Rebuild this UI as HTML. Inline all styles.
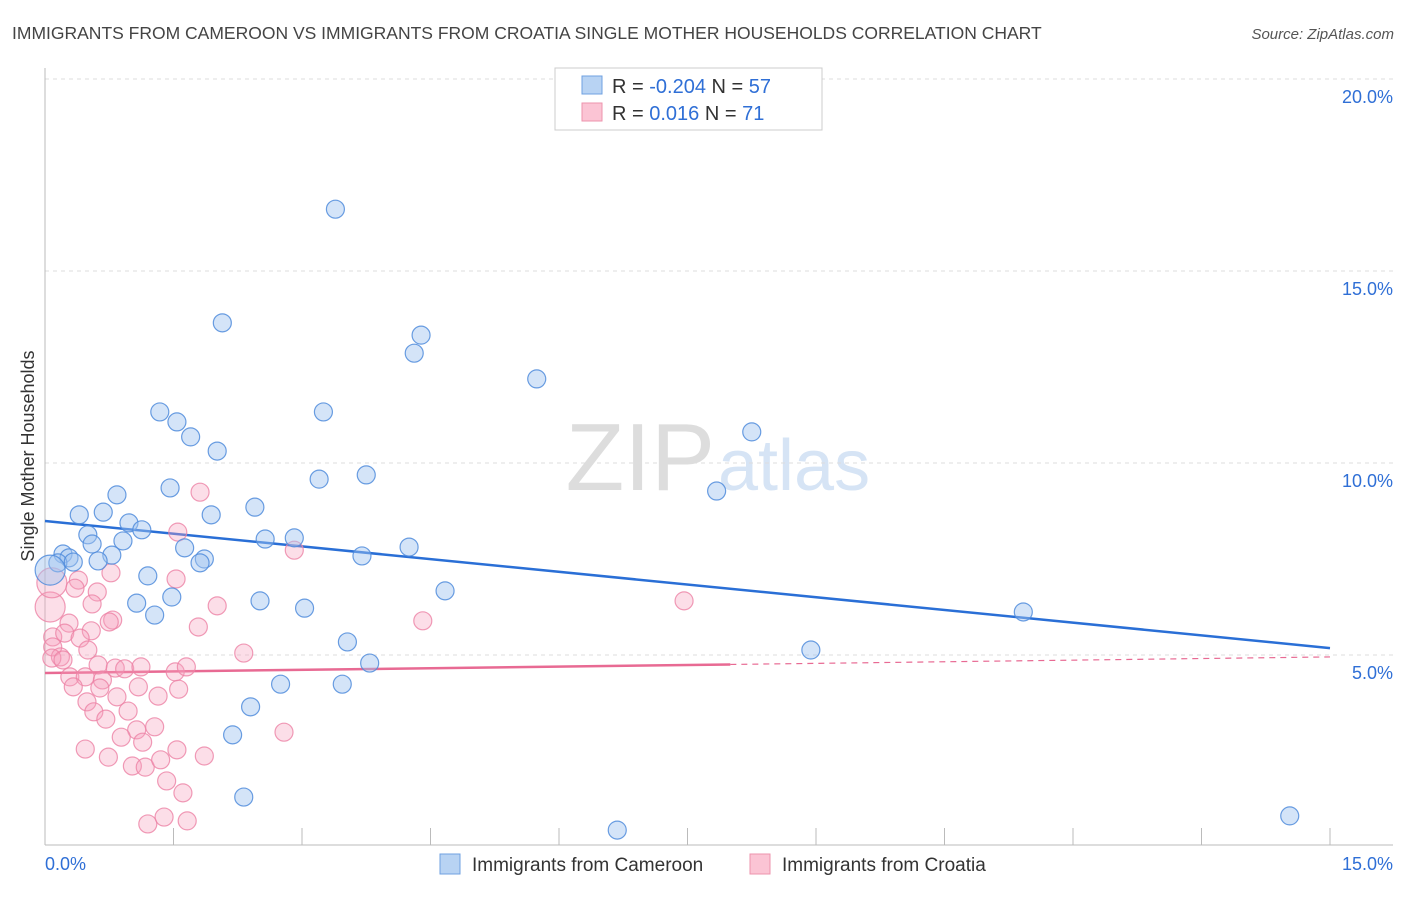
<!DOCTYPE html>
<html><head><meta charset="utf-8"><style>
body{margin:0;background:#fff;font-family:"Liberation Sans",sans-serif;}
svg text{font-family:"Liberation Sans",sans-serif;}
</style></head><body>
<svg id="chart" width="1406" height="892" xmlns="http://www.w3.org/2000/svg">
<text x="12" y="39" font-size="17.5" fill="#444">IMMIGRANTS FROM CAMEROON VS IMMIGRANTS FROM CROATIA SINGLE MOTHER HOUSEHOLDS CORRELATION CHART</text>
<text x="1394" y="39" font-size="15" fill="#555" font-style="italic" text-anchor="end">Source: ZipAtlas.com</text>
<text x="715" y="490" font-size="96" fill="#ddd" text-anchor="end" font-family="Liberation Serif">ZIP</text>
<text x="718" y="490" font-size="72" fill="#d6e4f5">atlas</text>
<text transform="translate(34,456) rotate(-90)" font-size="18" fill="#333" text-anchor="middle">Single Mother Households</text>
<g id="grid"></g><g id="axes"></g><g id="lines"></g><g id="pts"></g>
<g>
<rect x="555" y="68" width="267" height="62" fill="#fff" stroke="#ccc"/>
<rect x="582" y="76" width="20" height="18" fill="#b8d3f3" stroke="#6fa0e0"/>
<rect x="582" y="103" width="20" height="18" fill="#fbc4d4" stroke="#ee93ad"/>
<text x="612" y="93" font-size="20" fill="#333">R = <tspan fill="#2f6fd6">-0.204</tspan>   N = <tspan fill="#2f6fd6">57</tspan></text>
<text x="612" y="120" font-size="20" fill="#333">R =    <tspan fill="#2f6fd6">0.016</tspan>   N =  <tspan fill="#2f6fd6">71</tspan></text>
</g>
<g>
<rect x="440" y="854" width="20" height="20" fill="#b8d3f3" stroke="#6fa0e0"/>
<text x="472" y="871" font-size="19" fill="#333">Immigrants from Cameroon</text>
<rect x="750" y="854" width="20" height="20" fill="#fbc4d4" stroke="#ee93ad"/>
<text x="782" y="871" font-size="19" fill="#333">Immigrants from Croatia</text>
</g>
</svg>
<script>
const blueX=[3.39,2.07,4.39,4.31,5.74,1.34,3.25,1.54,1.70,8.25,2.01,3.20,3.75,1.46,0.84,7.84,2.45,0.40,0.68,1.94,0.98,1.13,0.50,2.57,2.91,0.55,0.91,4.25,1.63,0.21,0.78,0.28,0.15,0.33,0.62,1.86,1.81,3.70,0.06,1.20,4.67,1.07,2.51,1.48,3.03,1.28,11.42,3.53,8.94,3.79,2.75,3.47,2.40,2.19,2.32,6.68,14.53];
const blueY=[16.61,13.65,13.33,12.86,12.19,11.33,11.33,11.07,10.68,10.81,10.31,9.58,9.69,9.35,9.17,9.27,8.85,8.65,8.72,8.65,8.44,8.26,8.13,8.02,8.05,7.89,7.97,7.81,7.79,7.63,7.60,7.53,7.40,7.42,7.45,7.50,7.40,7.58,7.21,7.06,6.67,6.35,6.41,6.51,6.22,6.04,6.12,5.34,5.13,4.79,4.24,4.24,3.65,2.92,1.30,0.44,0.81];
const pinkX=[1.81,1.55,2.91,0.77,1.53,0.39,0.35,0.61,0.55,2.01,0.06,0.08,0.79,0.75,1.79,0.28,0.54,0.09,0.23,0.41,0.50,0.09,0.18,0.08,0.21,2.32,0.62,0.82,0.93,1.12,1.52,1.65,0.29,0.47,0.67,0.64,0.33,1.09,1.32,1.56,0.84,0.49,0.57,0.97,0.71,1.28,1.07,0.89,1.14,2.79,0.47,0.74,1.02,1.17,1.35,1.54,1.86,1.42,1.61,1.20,1.39,1.66,7.46,4.41];
const pinkY=[9.24,8.20,7.73,7.14,6.98,6.95,6.74,6.64,6.33,6.28,6.25,6.88,5.91,5.86,5.73,5.83,5.63,5.47,5.57,5.44,5.13,5.21,4.95,4.92,4.87,5.05,4.74,4.66,4.64,4.69,4.56,4.69,4.43,4.43,4.35,4.14,4.17,4.17,3.93,4.11,3.91,3.78,3.52,3.54,3.33,3.13,3.05,2.86,2.73,2.99,2.55,2.34,2.11,2.08,2.27,2.53,2.37,1.72,1.41,0.60,0.78,0.68,6.41,5.89];
const blueTrend=[8.49,5.18];
const pinkTrend=[4.53,4.95];
const pinkSolidEnd=8.0;
const yTicks=[5,10,15,20];
const xTickLabels=["0.0%","15.0%"];
const NS="http://www.w3.org/2000/svg";
const X0=45,X1=1330,Y0=847,PY=38.4;
function sx(v){return X0+(X1-X0)*v/15;}
function sy(v){return Y0-v*PY;}
function mk(tag,attrs,parent){const e=document.createElementNS(NS,tag);for(const k in attrs)e.setAttribute(k,attrs[k]);parent.appendChild(e);return e;}
const grid=document.getElementById('grid'),axes=document.getElementById('axes'),lines=document.getElementById('lines'),pts=document.getElementById('pts');
yTicks.forEach(t=>{
 const l=mk('line',{x1:45,x2:1393,y1:sy(t),y2:sy(t),stroke:'#ddd','stroke-dasharray':'4,4'},grid);
 
 
 const tx=mk('text',{x:1393,y:sy(t)+24,'font-size':18,fill:'#2f6fd6','text-anchor':'end'},grid);
 tx.textContent=t.toFixed(1)+'%';
 
 
});
const ax=mk('line',{x1:45,x2:1393,y1:845,y2:845,stroke:'#bbb'},axes);


const ay=mk('line',{x1:45,x2:45,y1:68,y2:845,stroke:'#bbb'},axes);


for(let i=0;i<=10;i++){const t=mk('line',{x1:sx(i*1.5),x2:sx(i*1.5),y1:828,y2:845,stroke:'#bbb'},axes);
 
 }
const xl0=mk('text',{x:45,y:870,'font-size':18,fill:'#2f6fd6'},axes);xl0.textContent=xTickLabels[0];


const xl1=mk('text',{x:1393,y:870,'font-size':18,fill:'#2f6fd6','text-anchor':'end'},axes);xl1.textContent=xTickLabels[1];


function drawPts(xs,ys,fill,stroke,name){xs.forEach((x,i)=>{
 const big=(x<0.1&&(ys[i]>6.8&&ys[i]<7.3||name==='croatia'&&ys[i]>6&&ys[i]<7));
 const c=mk('circle',{cx:sx(x),cy:sy(ys[i]),r:big?15:9,fill:fill,stroke:stroke,'stroke-width':1.2},pts);
 
 });}
drawPts(pinkX,pinkY,'rgba(247,160,188,0.35)','rgba(236,130,165,0.8)','croatia');
drawPts(blueX,blueY,'rgba(160,196,240,0.45)','rgba(80,140,220,0.85)','cameroon');
const bl=mk('line',{x1:sx(0),y1:sy(blueTrend[0]),x2:sx(15),y2:sy(blueTrend[1]),stroke:'#2a6fd6','stroke-width':2.5},lines);


const py=x=>pinkTrend[0]+(pinkTrend[1]-pinkTrend[0])*x/15;
const pl=mk('line',{x1:sx(0),y1:sy(py(0)),x2:sx(pinkSolidEnd),y2:sy(py(pinkSolidEnd)),stroke:'#e86a93','stroke-width':2.5},lines);


const pd=mk('line',{x1:sx(pinkSolidEnd),y1:sy(py(pinkSolidEnd)),x2:sx(15),y2:sy(py(15)),stroke:'#e86a93','stroke-width':1.2,'stroke-dasharray':'6,5'},lines);


</script>
</body></html>
